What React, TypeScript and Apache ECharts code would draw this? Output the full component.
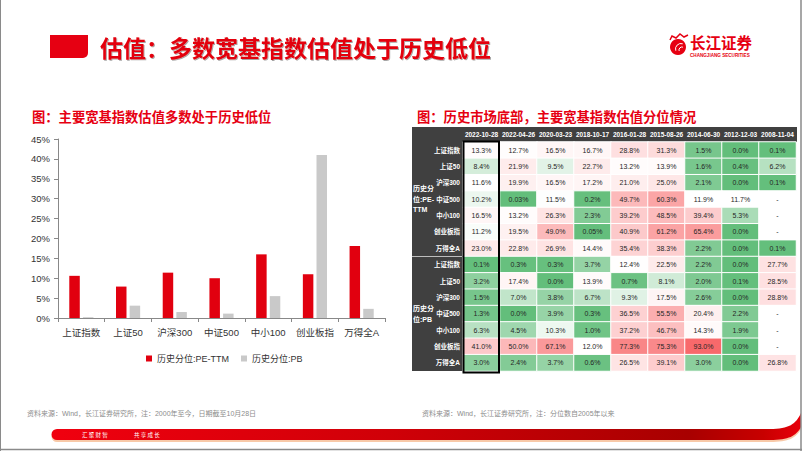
import React, { useEffect, useRef } from "react";
import * as echarts from "echarts";

// ---------- data ----------
const barCategories = ["上证指数", "上证50", "沪深300", "中证500", "中小100", "创业板指", "万得全A"];
const peTTM = [10.6, 7.9, 11.4, 10.0, 16.0, 11.0, 18.1];
const pbVals = [0.2, 3.1, 1.5, 1.1, 5.5, 41.0, 2.3];
const seriesNames = ["历史分位:PE-TTM", "历史分位:PB"];

const dates = ["2022-10-28", "2022-04-26", "2020-03-23", "2018-10-17", "2016-01-28", "2015-08-26", "2014-06-30", "2012-12-03", "2008-11-04"];
const indexNames = ["上证指数", "上证50", "沪深300", "中证500", "中小100", "创业板指", "万得全A"];
const groupLabels = ["历史分\n位:PE-\nTTM", "历史分\n位:PB"];

const pePct: (number | null)[][] = [
  [13.3, 12.7, 16.5, 16.7, 28.8, 31.3, 1.5, 0.0, 0.1],
  [8.4, 21.9, 9.5, 22.7, 13.2, 13.9, 1.6, 0.4, 6.2],
  [11.6, 19.9, 16.5, 17.2, 21.0, 25.0, 2.1, 0.0, 0.1],
  [10.2, 0.03, 11.5, 0.2, 49.7, 60.3, 11.9, 11.7, null],
  [16.5, 13.2, 26.3, 2.3, 39.2, 48.5, 39.4, 5.3, null],
  [11.2, 19.5, 49.0, 0.05, 40.9, 61.2, 65.4, 0.0, null],
  [23.0, 22.8, 26.9, 14.4, 35.4, 38.3, 2.2, 0.0, 0.1],
];
const pbPct: (number | null)[][] = [
  [0.1, 0.3, 0.3, 3.7, 12.4, 22.5, 2.2, 0.0, 27.7],
  [3.2, 17.4, 0.0, 13.9, 0.7, 8.1, 2.0, 0.1, 28.5],
  [1.5, 7.0, 3.8, 6.7, 9.3, 17.5, 2.6, 0.0, 28.8],
  [1.3, 0.0, 3.9, 0.3, 36.5, 55.5, 20.4, 2.2, null],
  [6.3, 4.5, 10.3, 1.0, 37.2, 46.7, 14.3, 1.9, null],
  [41.0, 50.0, 67.1, 12.0, 77.3, 75.3, 93.0, 0.0, null],
  [3.0, 2.4, 3.7, 0.6, 26.5, 39.1, 3.0, 0.0, 26.8],
];

// ---------- shapes ----------
const footPath =
  "M57 429 L770 429 C789 429 796 424 801 413 L801 427 C796 436 789 440 770 440 L57 440 A5.5 5.5 0 0 1 57 429 Z";
echarts.graphic.registerShape("footbar", echarts.graphic.extendPath(footPath, {}) as any);

// ---------- helpers ----------
function hex(c: number[]) {
  return "#" + c.map((v) => Math.round(v).toString(16).padStart(2, "0")).join("");
}
function mix(a: number[], b: number[], t: number) {
  return [0, 1, 2].map((i) => a[i] + (b[i] - a[i]) * t);
}
const GREEN = [99, 190, 123];
const WHITE = [255, 255, 255];
const RED = [248, 105, 107];
// white placed at 1/8 of the range, then linear white->red
const scaleColors = [hex(GREEN), hex(WHITE)];
for (let k = 1; k <= 7; k++) scaleColors.push(hex(mix(WHITE, RED, k / 7)));

const FONT = "Arial, 'Liberation Sans', 'Noto Sans CJK SC', sans-serif";
const CJK = "'Noto Sans CJK SC', sans-serif";

// heatmap geometry
const HM_LEFT = 463;
const HM_TOP = 142;
const HM_W = 333;
const HM_H = 229;
const nRows = indexNames.length * 2;
const rowH = HM_H / nRows;
const colW = HM_W / dates.length;

function buildOption() {
  const yKeys: string[] = [];
  const heat: any[] = [];
  [pePct, pbPct].forEach((blk, g) => {
    blk.forEach((row, r) => {
      yKeys.push(g + "|" + indexNames[r]);
      row.forEach((v, c) => {
        heat.push([c, g * indexNames.length + r, v == null ? -1 : v]);
      });
    });
  });
  const allVals = [...pePct.flat(), ...pbPct.flat()].filter((v) => v != null) as number[];
  const vmax = Math.max(...allVals);

  const groupTexts = groupLabels.map((t, g) => ({
    type: "text",
    z: 5,
    x: 413,
    y: HM_TOP + (g * indexNames.length + indexNames.length / 2) * rowH,
    style: {
      text: t,
      fill: "#ffffff",
      fontSize: 7,
      fontWeight: "bold",
      lineHeight: 10.5,
      fontFamily: FONT,
      verticalAlign: "middle",
      align: "left",
    },
  }));

  return {
    animation: false,
    backgroundColor: "#ffffff",
    textStyle: { fontFamily: FONT },
    grid: [
      { left: 58, top: 139, width: 327, height: 179 },
      { left: HM_LEFT, top: HM_TOP, width: HM_W, height: HM_H },
    ],
    legend: {
      data: seriesNames,
      left: 141,
      top: 349,
      icon: "rect",
      itemWidth: 6,
      itemHeight: 6,
      itemGap: 12,
      textStyle: { fontSize: 9, color: "#333" },
    },
    xAxis: [
      {
        gridIndex: 0,
        type: "category",
        data: barCategories,
        axisLine: { lineStyle: { color: "#888" } },
        axisTick: { show: true, length: 4, lineStyle: { color: "#888" } },
        axisLabel: { fontSize: 9.5, color: "#333", margin: 10, interval: 0 },
      },
      {
        gridIndex: 1,
        type: "category",
        data: dates,
        position: "top",
        z: 5,
        axisLine: { show: false },
        axisTick: { show: false },
        axisLabel: { fontSize: 6.5, color: "#ffffff", fontWeight: "bold", margin: 4, interval: 0 },
        splitLine: { show: false },
      },
    ],
    yAxis: [
      {
        gridIndex: 0,
        type: "value",
        min: 0,
        max: 45,
        interval: 5,
        axisLine: { show: true, lineStyle: { color: "#888" } },
        axisTick: { show: true, length: 4, lineStyle: { color: "#888" } },
        splitLine: { show: false },
        axisLabel: { fontSize: 9.5, color: "#333", formatter: "{value}%" },
      },
      {
        gridIndex: 1,
        type: "category",
        data: yKeys,
        inverse: true,
        z: 5,
        axisLine: { show: false },
        axisTick: { show: false },
        splitLine: { show: false },
        axisLabel: {
          fontSize: 6.5,
          color: "#ffffff",
          fontWeight: "bold",
          margin: 3,
          interval: 0,
          formatter: (v: string) => v.split("|")[1],
        },
      },
    ],
    visualMap: {
      type: "continuous",
      show: false,
      seriesIndex: 2,
      dimension: 2,
      min: -0.001,
      max: vmax,
      range: [0, vmax],
      inRange: { color: scaleColors },
      outOfRange: { color: "#ffffff" },
    },
    series: [
      {
        name: seriesNames[0],
        type: "bar",
        xAxisIndex: 0,
        yAxisIndex: 0,
        data: peTTM,
        barWidth: 10.5,
        barGap: "30%",
        itemStyle: { color: "#e1000f" },
      },
      {
        name: seriesNames[1],
        type: "bar",
        xAxisIndex: 0,
        yAxisIndex: 0,
        data: pbVals,
        barWidth: 10.5,
        itemStyle: { color: "#c9c9c9" },
      },
      {
        type: "heatmap",
        xAxisIndex: 1,
        yAxisIndex: 1,
        data: heat,
        itemStyle: { borderColor: "#ffffff", borderWidth: 1 },
        emphasis: { disabled: true },
        label: {
          show: true,
          fontSize: 7,
          color: "#262626",
          formatter: (p: any) => {
            const v = p.value[2];
            if (v < 0) return "-";
            return (v > 0 && v < 0.1 ? v.toFixed(2) : v.toFixed(1)) + "%";
          },
        },
      },
    ],
    graphic: [
      // frame
      { type: "line", z: 20, shape: { x1: 0.5, y1: 0, x2: 0.5, y2: 451 }, style: { stroke: "#8a8a8a", lineWidth: 1 } },
      { type: "line", z: 20, shape: { x1: 801, y1: 0, x2: 801, y2: 451 }, style: { stroke: "#8a8a8a", lineWidth: 1.5 } },
      { type: "line", z: 20, shape: { x1: 0, y1: 449.5, x2: 802, y2: 449.5 }, style: { stroke: "#8a8a8a", lineWidth: 1.5 } },
      // title block
      { type: "rect", shape: { x: 50, y: 35, width: 38, height: 23, r: [0, 0, 5, 0] }, style: { fill: "#e60012" } },
      {
        type: "text",
        x: 100,
        y: 47,
        style: {
          text: "估值：多数宽基指数估值处于历史低位",
          fill: "#e3000b",
          fontSize: 23,
          fontWeight: "bold",
          fontFamily: CJK,
          verticalAlign: "middle",
          textShadowColor: "rgba(0,0,0,0.35)",
          textShadowOffsetX: 1,
          textShadowOffsetY: 1,
          textShadowBlur: 1,
        },
      },
      // logo
      { type: "circle", shape: { cx: 678, cy: 47, r: 8 }, style: { fill: "#e60012" } },
      { type: "arc", shape: { cx: 681, cy: 49, r: 5.5, startAngle: Math.PI * 0.9, endAngle: Math.PI * 1.6 }, style: { stroke: "#fff", lineWidth: 1, fill: "none" } },
      { type: "arc", shape: { cx: 682, cy: 50, r: 3, startAngle: Math.PI * 0.9, endAngle: Math.PI * 1.6 }, style: { stroke: "#fff", lineWidth: 1, fill: "none" } },
      { type: "polyline", shape: { points: [[670, 40], [672, 36], [676, 38], [680, 34], [684, 37], [688, 35]] }, style: { stroke: "#e60012", lineWidth: 1.5, fill: "none" } },
      {
        type: "text",
        x: 690,
        y: 42,
        style: { text: "长江证券", fill: "#e60012", fontSize: 15.5, fontWeight: "bold", fontFamily: CJK, verticalAlign: "middle" },
      },
      {
        type: "text",
        x: 690,
        y: 55,
        style: { text: "CHANGJIANG SECURITIES", fill: "#e60012", fontSize: 4.6, fontWeight: "bold", fontFamily: FONT, verticalAlign: "middle" },
      },
      // subtitles
      {
        type: "text",
        x: 32,
        y: 116,
        style: { text: "图：主要宽基指数估值多数处于历史低位", fill: "#e60012", fontSize: 13.3, fontWeight: "bold", fontFamily: CJK, verticalAlign: "middle" },
      },
      {
        type: "text",
        x: 417,
        y: 116,
        style: { text: "图：历史市场底部，主要宽基指数估值分位情况", fill: "#e60012", fontSize: 13.3, fontWeight: "bold", fontFamily: CJK, verticalAlign: "middle" },
      },
      // table dark backgrounds
      { type: "rect", z: -1, shape: { x: 412, y: 127, width: 385, height: HM_TOP - 127 }, style: { fill: "#404040" } },
      { type: "rect", z: -1, shape: { x: 412, y: 127, width: HM_LEFT - 412, height: HM_TOP + HM_H - 127 }, style: { fill: "#404040" } },
      {
        type: "line",
        z: 4,
        shape: { x1: 412, y1: HM_TOP + indexNames.length * rowH, x2: HM_LEFT, y2: HM_TOP + indexNames.length * rowH },
        style: { stroke: "#bdbdbd", lineWidth: 1 },
      },
      ...groupTexts,
      // highlight box around latest column
      {
        type: "rect",
        z: 10,
        shape: { x: HM_LEFT + 0.5, y: HM_TOP - 0.5, width: colW - 1.5, height: HM_H + 2 },
        style: { fill: "none", stroke: "#000000", lineWidth: 2 },
      },
      // sources
      {
        type: "text",
        x: 27,
        y: 413,
        style: { text: "资料来源：Wind，长江证券研究所，注：2000年至今，日期截至10月28日", fill: "#8c8c8c", fontSize: 7, fontFamily: FONT, verticalAlign: "middle" },
      },
      {
        type: "text",
        x: 422,
        y: 413,
        style: { text: "资料来源：Wind，长江证券研究所，注：分位数自2005年以来", fill: "#8c8c8c", fontSize: 7, fontFamily: FONT, verticalAlign: "middle" },
      },
      // footer bar
      { type: "footbar", x: 0, y: 2, style: { fill: "#f8c9a8" } },
      {
        type: "footbar",
        x: 0,
        y: 0,
        style: {
          fill: new echarts.graphic.LinearGradient(0, 0, 1, 0, [
            { offset: 0, color: "#f0000f" },
            { offset: 0.45, color: "#d00008" },
            { offset: 0.85, color: "#a80000" },
            { offset: 0.95, color: "#c80000" },
            { offset: 1, color: "#e8000b" },
          ]),
        },
      },
      {
        type: "text",
        x: 82,
        y: 434.5,
        style: { text: "汇 聚 财 智", fill: "#ffffff", fontSize: 5.5, fontFamily: CJK, verticalAlign: "middle" },
      },
      {
        type: "text",
        x: 134,
        y: 434.5,
        style: { text: "共 享 成 长", fill: "#ffffff", fontSize: 5.5, fontFamily: CJK, verticalAlign: "middle" },
      },
    ],
  };
}

export default function App() {
  const ref = useRef<HTMLDivElement>(null);
  useEffect(() => {
    if (!ref.current) return;
    const chart = echarts.init(ref.current, null, { renderer: "svg", width: 802, height: 451 });
    chart.setOption(buildOption() as any);
    return () => chart.dispose();
  }, []);
  return (
    <div
      ref={ref}
      style={{ position: "absolute", left: 0, top: 0, width: 802, height: 451, background: "#fff" }}
    />
  );
}
